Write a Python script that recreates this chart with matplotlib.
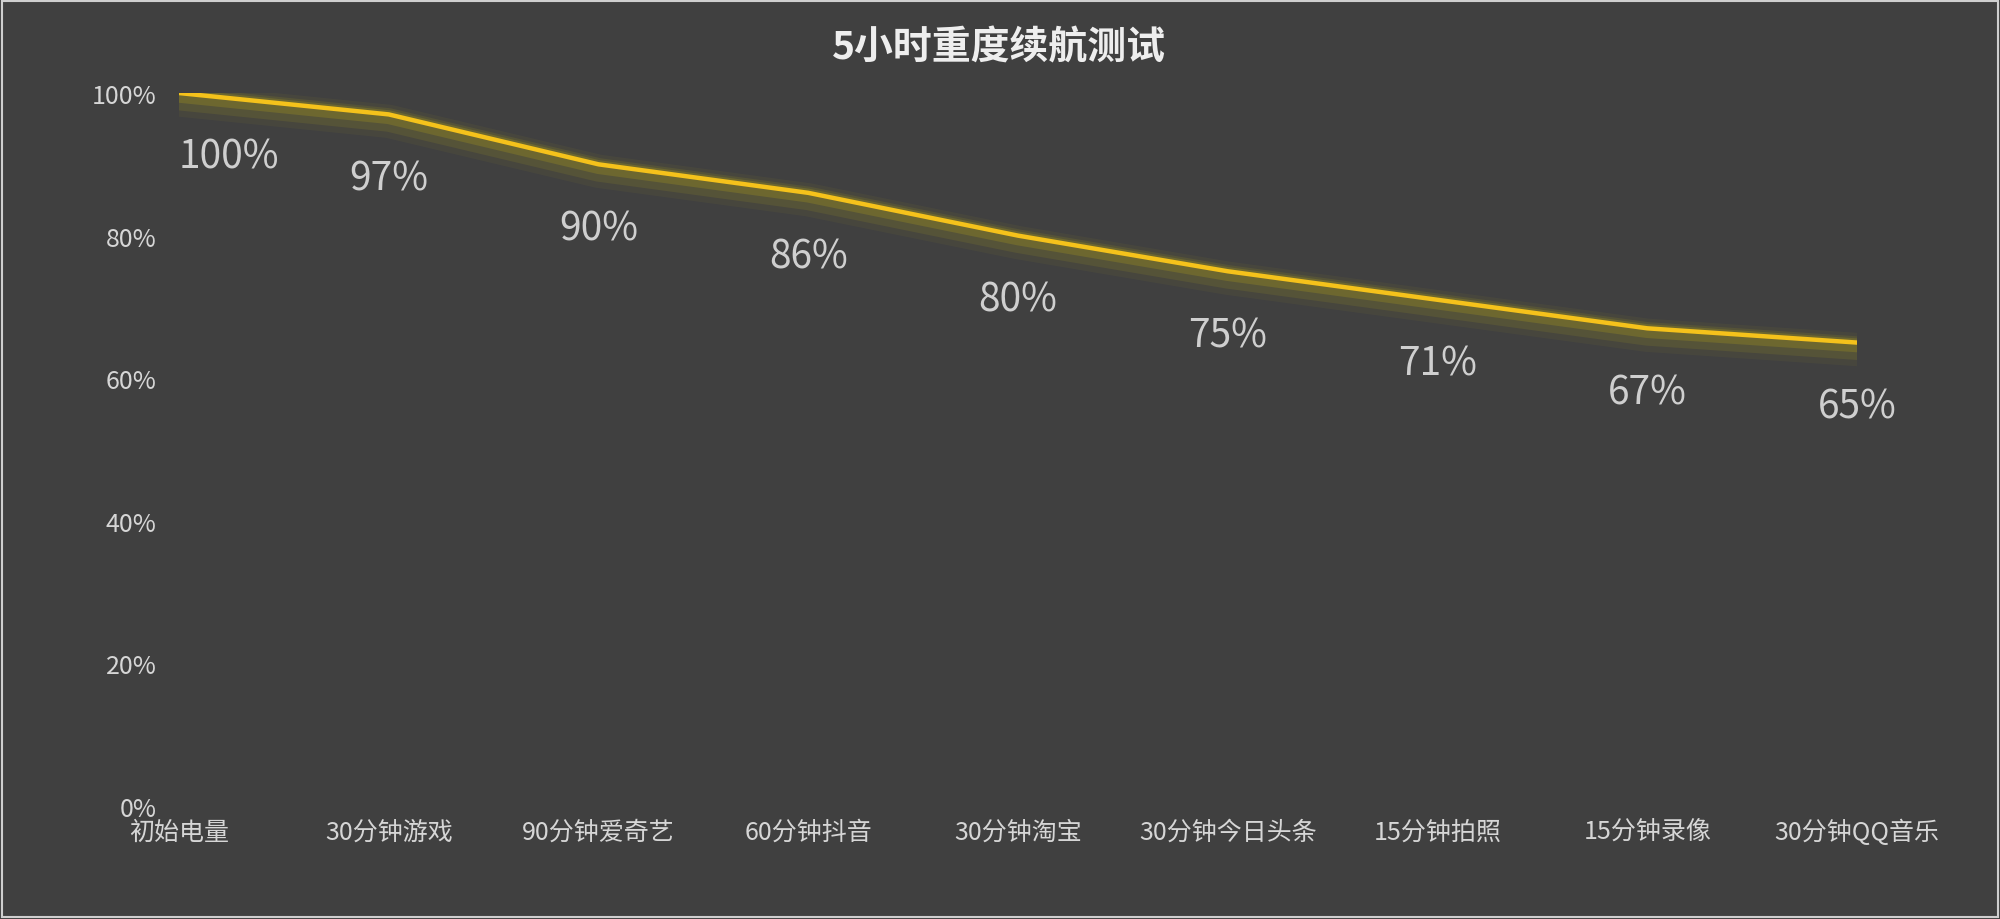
import matplotlib
matplotlib.use('Agg')
import matplotlib.pyplot as plt
import matplotlib.patheffects as pe
from matplotlib.patches import Rectangle

plt.rcParams['font.family'] = ['Noto Sans CJK SC', 'DejaVu Sans']

# data
categories = ['初始电量', '30分钟游戏', '90分钟爱奇艺', '60分钟抖音', '30分钟淘宝',
              '30分钟今日头条', '15分钟拍照', '15分钟录像', '30分钟QQ音乐']
battery = [100, 97, 90, 86, 80, 75, 71, 67, 65]
y_ticks = [0, 20, 40, 60, 80, 100]
title = '5小时重度续航测试'

bg = '#404040'
line_color = '#f5c21b'

fig = plt.figure(figsize=(20, 9.2), dpi=100, facecolor=bg)
ax = fig.add_axes([0.0895, 0.1228, 0.839, 0.775])
ax.set_facecolor(bg)

x = list(range(len(categories)))

# soft glow under the line
glow = [pe.Stroke(linewidth=24, foreground='#55533a', alpha=0.35, offset=(0, -5)),
        pe.Stroke(linewidth=17, foreground='#676332', alpha=0.45, offset=(0, -4)),
        pe.Stroke(linewidth=10, foreground='#857b28', alpha=0.5, offset=(0, -2)),
        pe.Normal()]
ax.plot(x, battery, color=line_color, linewidth=3.2, solid_joinstyle='round',
        path_effects=glow, zorder=3)

# data labels below the points
for i, v in enumerate(battery):
    ax.annotate(f'{v}%', (x[i], v), xytext=(0, -46), textcoords='offset points',
                ha='left' if i == 0 else 'center', va='center',
                fontsize=28, color='#cfcfcf', zorder=4)

ax.set_xlim(0, len(categories) - 1)
ax.set_ylim(0, 100)
ax.set_xticks(x)
ax.set_xticklabels(categories)
ax.set_yticks(y_ticks)
ax.set_yticklabels([f'{t}%' for t in y_ticks])
ax.tick_params(axis='both', length=0, colors='#d6d6d6', labelsize=18)
ax.tick_params(axis='x', pad=9)
ax.tick_params(axis='y', pad=16)
for s in ax.spines.values():
    s.set_visible(False)

fig.text(0.4995, 0.948, title, ha='center', va='center', fontsize=28,
         fontweight='bold', color='#eeeeee')

# thin frame around the image
fig.patches.append(Rectangle((0.001, 0.002), 0.998, 0.996, transform=fig.transFigure,
                             fill=False, edgecolor='#cfcfcf', linewidth=1.5))

fig.savefig('out.png', dpi=100, facecolor=bg)
